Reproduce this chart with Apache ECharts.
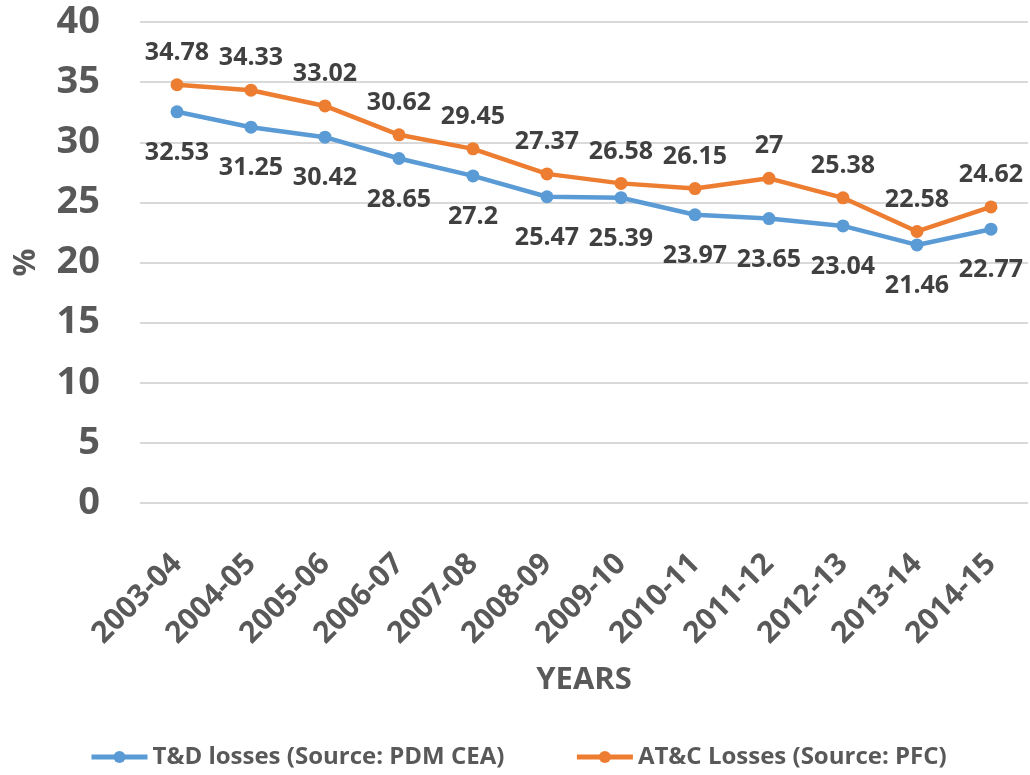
<!DOCTYPE html>
<html>
<head>
<meta charset="utf-8">
<script src="https://cdn.jsdelivr.net/npm/echarts@6/dist/echarts.min.js"></script>
<style>
  html, body { margin: 0; padding: 0; background: #fff; }
  #chart { width: 1030px; height: 775px; }
</style>
</head>
<body>
<div id="chart"></div>
<script>
const years = ['2003-04', '2004-05', '2005-06', '2006-07', '2007-08', '2008-09',
  '2009-10', '2010-11', '2011-12', '2012-13', '2013-14', '2014-15']
const tdLosses = [32.53, 31.25, 30.42, 28.65, 27.2, 25.47, 25.39, 23.97, 23.65, 23.04, 21.46, 22.77]
const atcLosses = [34.78, 34.33, 33.02, 30.62, 29.45, 27.37, 26.58, 26.15, 27, 25.38, 22.58, 24.62]

const FONT = 'Open Sans'
const GREY = '#595959'

const chart = echarts.init(document.getElementById('chart'))

const makeSeries = (name, data, color, pos, dist) => ({
  name: name,
  type: 'line',
  data: data,
  symbol: 'circle',
  symbolSize: 13,
  lineStyle: { width: 4.5, color: color },
  itemStyle: { color: color },
  label: {
    show: true,
    position: pos,
    distance: dist,
    fontFamily: FONT,
    fontWeight: 'bold',
    fontSize: 25,
    color: '#404040'
  },
  animation: false
})

chart.setOption({
  grid: { left: 140, right: 2, top: 22, bottom: 272, outerBoundsMode: 'none' },
  legend: {
    bottom: 1,
    left: 84,
    itemWidth: 56,
    itemHeight: 15,
    itemGap: 70,
    lineStyle: { width: 5 },
    textStyle: { fontFamily: FONT, fontWeight: 'bold', fontSize: 24, color: GREY }
  },
  xAxis: {
    type: 'category',
    data: years,
    name: 'YEARS',
    nameLocation: 'middle',
    nameGap: 162,
    nameTextStyle: { fontFamily: FONT, fontWeight: 'bold', fontSize: 31, color: GREY },
    axisLine: { show: false },
    axisTick: { show: false },
    axisLabel: {
      rotate: 45,
      interval: 0,
      margin: 56,
      fontFamily: FONT,
      fontWeight: 'bold',
      fontSize: 30,
      color: GREY
    }
  },
  yAxis: {
    type: 'value',
    min: 0,
    max: 40,
    interval: 5,
    name: '%',
    nameLocation: 'middle',
    nameGap: 98,
    nameTextStyle: { fontFamily: FONT, fontWeight: 'bold', fontSize: 31, color: GREY },
    axisLabel: {
      margin: 40,
      fontFamily: FONT,
      fontWeight: 'bold',
      fontSize: 38,
      color: GREY
    },
    splitLine: { lineStyle: { color: '#d9d9d9', width: 2 } }
  },
  series: [
    makeSeries('T&D losses (Source: PDM CEA)', tdLosses, '#5b9bd5', 'bottom', 22),
    makeSeries('AT&C Losses (Source: PFC)', atcLosses, '#ed7d31', 'top', 13)
  ]
})
</script>
</body>
</html>
